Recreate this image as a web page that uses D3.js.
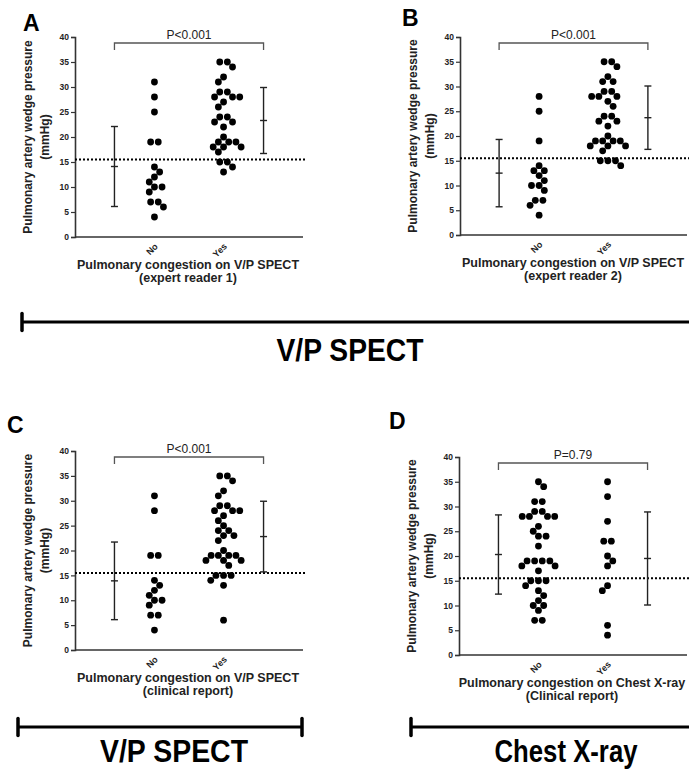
<!DOCTYPE html>
<html>
<head>
<meta charset="utf-8">
<script src="https://cdn.jsdelivr.net/npm/d3@7"></script>
<style>
  html, body { margin: 0; padding: 0; background: #fff; }
  svg { display: block; font-family: "Liberation Sans", Arial, sans-serif; }
</style>
</head>
<body>
<svg id="chart" width="689" height="769"></svg>
<script>
// ---------------- DATA ----------------
const categories = ["No", "Yes"];
const yTicks = [0, 5, 10, 15, 20, 25, 30, 35, 40];
const yDomain = [0, 40];
const threshold = 15.5;

const panelLetters = ["A", "B", "C", "D"];
const pValues = ["P<0.001", "P<0.001", "P<0.001", "P=0.79"];
const yTitle = ["Pulmonary artery wedge pressure", "(mmHg)"];
const xTitles = [
  "Pulmonary congestion on V/P SPECT",
  "Pulmonary congestion on V/P SPECT",
  "Pulmonary congestion on V/P SPECT",
  "Pulmonary congestion on Chest X-ray"
];
const xSubtitles = ["(expert reader 1)", "(expert reader 2)", "(clinical report)", "(Clinical report)"];

const aNo  = [31, 28, 25, 19, 19, 14, 13, 12, 11, 10, 10, 9, 7, 7, 6, 4];
const aYes = [35, 35, 34, 32, 31, 29, 29, 28, 28, 28, 27, 26, 24, 24, 23, 23, 22, 20, 19, 19, 19, 18, 18, 18, 17, 15, 15, 14, 13];
const bNo  = [28, 25, 19, 14, 13, 13, 12, 11, 10, 10, 9, 7, 7, 6, 4];
const bYes = [35, 35, 34, 32, 31, 31, 29, 29, 28, 28, 28, 27, 26, 24, 24, 23, 23, 22, 20, 19, 19, 19, 19, 18, 18, 18, 17, 15, 15, 15, 14];
const cNo  = [31, 28, 19, 19, 14, 13, 12, 11, 10, 10, 9, 7, 7, 4];
const cYes = [35, 35, 34, 32, 31, 29, 29, 28, 28, 28, 27, 26, 25, 24, 24, 23, 23, 22, 20, 19, 19, 19, 19, 18, 18, 18, 17, 15, 15, 15, 14, 13, 6];
const dNo  = [35, 34, 31, 31, 29, 29, 28, 28, 28, 28, 26, 25, 24, 24, 22, 19, 19, 19, 19, 18, 18, 17, 15, 15, 15, 14, 13, 12, 11, 10, 10, 9, 7, 7];
const dYes = [35, 32, 27, 23, 23, 20, 19, 18, 14, 13, 6, 4];

const meanNo  = [14.1, 12.5, 13.9, 20.3];
const sdNo    = [8.0, 6.8, 7.8, 8.0];
const meanYes = [23.3, 23.7, 22.8, 19.5];
const sdYes   = [6.6, 6.4, 7.1, 9.4];

const seriesNo  = [aNo, bNo, cNo, dNo];
const seriesYes = [aYes, bYes, cYes, dYes];

const groupLabels = ["V/P SPECT", "V/P SPECT", "Chest X-ray"];

// ---------------- LAYOUT ----------------
const panels = [
  { x0: 75,  x1: 303, yTop: 37,  yBot: 237, letter: [23, 31] },
  { x0: 460, x1: 687, yTop: 37,  yBot: 235, letter: [402, 26] },
  { x0: 75,  x1: 303, yTop: 451, yBot: 650, letter: [7, 433] },
  { x0: 459, x1: 687, yTop: 457, yBot: 655, letter: [389, 429] }
];
const R = 3.4;
const ERR_OFF = 40;

const svg = d3.select("#chart");

// beeswarm: equal values try a symmetric spread with a small shift; otherwise each dot
// is placed individually at the free position nearest the column centre.
function swarm(values, y) {
  const same = 7.6, minD = 7.2, maxShift = 4.5;
  const order = values.map((v, i) => i).sort((a, b) => values[b] - values[a]);
  const groups = d3.groups(order, i => values[i]);
  const placed = [];
  const off = new Array(values.length).fill(0);
  let flip = 1;
  function bestShift(base, py) {
    const intervals = [];
    base.forEach(b => {
      placed.forEach(p => {
        const dy = Math.abs(p.y - py);
        if (dy < minD) {
          const w = Math.sqrt(minD * minD - dy * dy);
          intervals.push([p.x - w - b, p.x + w - b]);
        }
      });
    });
    const cands = [0];
    intervals.forEach(([a, c]) => { cands.push(a, c); });
    const valid = cands.filter(s => intervals.every(([a, c]) => s <= a + 1e-6 || s >= c - 1e-6));
    valid.sort((a, b) => {
      const d = Math.abs(a) - Math.abs(b);
      if (Math.abs(d) > 1e-6) return d;
      return flip * (b - a);
    });
    return valid.length ? valid[0] : 0;
  }
  groups.forEach(([v, idx]) => {
    const py = y(v), n = idx.length;
    const base = idx.map((_, k) => (k - (n - 1) / 2) * same);
    const s = bestShift(base, py);
    if (n === 1 || Math.abs(s) <= maxShift) {
      if (Math.abs(s) > 1e-6) flip = -flip;
      base.forEach((b, k) => { off[idx[k]] = b + s; placed.push({ x: b + s, y: py }); });
    } else {
      idx.forEach(i => {
        const sx = bestShift([0], py);
        if (Math.abs(sx) > 1e-6) flip = -flip;
        off[i] = sx; placed.push({ x: sx, y: py });
      });
    }
  });
  return off;
}

panels.forEach((P, pi) => {
  const g = svg.append("g");
  const y = d3.scaleLinear().domain(yDomain).range([P.yBot, P.yTop]);
  const x = d3.scalePoint().domain(categories).range([P.x0, P.x1]).padding(1.15);

  // letter
  g.append("text").attr("x", P.letter[0]).attr("y", P.letter[1])
    .attr("font-size", 23).attr("font-weight", "bold").text(panelLetters[pi]);

  // y axis
  const yAxis = d3.axisLeft(y).tickValues(yTicks).tickSize(4).tickPadding(2);
  const ya = g.append("g").attr("transform", `translate(${P.x0},0)`).call(yAxis);
  ya.select(".domain").attr("stroke", "#333").attr("stroke-width", 1.6);
  ya.selectAll(".tick line").attr("stroke", "#333").attr("stroke-width", 1.2);
  ya.selectAll(".tick text").attr("font-size", 8.5).attr("font-weight", "bold")
    .attr("fill", "#222").attr("font-family", "Liberation Sans, Arial, sans-serif");

  // x axis line
  g.append("line").attr("x1", P.x0).attr("x2", P.x1).attr("y1", P.yBot).attr("y2", P.yBot)
    .attr("stroke", "#333").attr("stroke-width", 1.6);

  // x tick labels
  categories.forEach(c => {
    g.append("text")
      .attr("transform", `translate(${x(c) + 4},${P.yBot + 10}) rotate(-45)`)
      .attr("text-anchor", "end").attr("font-size", 9).attr("font-weight", "bold")
      .attr("fill", "#222").text(c);
  });

  // y title
  const yc = (P.yTop + P.yBot) / 2;
  [[-47, yTitle[0]], [-30, yTitle[1]]].forEach(([dx, t]) => {
    g.append("text").attr("transform", `translate(${P.x0 + dx},${yc}) rotate(-90)`)
      .attr("text-anchor", "middle").attr("dy", "0.35em")
      .attr("font-size", 12).attr("font-weight", "bold").attr("fill", "#222").text(t);
  });

  // x titles
  const xc = P.x0 + 113;
  g.append("text").attr("x", xc).attr("y", P.yBot + 31.5).attr("text-anchor", "middle")
    .attr("font-size", 12.5).attr("font-weight", "bold").attr("fill", "#222").text(xTitles[pi]);
  g.append("text").attr("x", xc).attr("y", P.yBot + 45).attr("text-anchor", "middle")
    .attr("font-size", 12.5).attr("font-weight", "bold").attr("fill", "#222").text(xSubtitles[pi]);

  // threshold dotted line
  g.append("line").attr("x1", P.x0).attr("x2", P.x1 + 2)
    .attr("y1", y(threshold)).attr("y2", y(threshold))
    .attr("stroke", "#000").attr("stroke-width", 2).attr("stroke-dasharray", "2,2");

  // error bars
  const errs = [
    { cx: x("No") - ERR_OFF, m: meanNo[pi], s: sdNo[pi] },
    { cx: x("Yes") + ERR_OFF, m: meanYes[pi], s: sdYes[pi] }
  ];
  errs.forEach(e => {
    const eg = g.append("g").attr("stroke", "#222").attr("stroke-width", 1.4);
    eg.append("line").attr("x1", e.cx).attr("x2", e.cx).attr("y1", y(e.m + e.s)).attr("y2", y(e.m - e.s));
    [e.m + e.s, e.m, e.m - e.s].forEach(v => {
      eg.append("line").attr("x1", e.cx - 3.5).attr("x2", e.cx + 3.5).attr("y1", y(v)).attr("y2", y(v));
    });
  });

  // p-value bracket
  const by = P.yTop + 6;
  const bx1 = errs[0].cx, bx2 = errs[1].cx;
  g.append("path")
    .attr("d", `M${bx1},${by + 7}V${by}H${bx2}V${by + 7}`)
    .attr("fill", "none").attr("stroke", "#555").attr("stroke-width", 1.3);
  g.append("text").attr("x", (bx1 + bx2) / 2).attr("y", by - 4).attr("text-anchor", "middle")
    .attr("font-size", 12).attr("fill", "#222").text(pValues[pi]);

  // dots
  [["No", seriesNo[pi]], ["Yes", seriesYes[pi]]].forEach(([c, vals]) => {
    const off = swarm(vals, y);
    g.append("g").selectAll("circle").data(vals).join("circle")
      .attr("cx", (d, i) => x(c) + off[i]).attr("cy", d => y(d)).attr("r", R).attr("fill", "#000");
  });
});

// ---------------- group brackets ----------------
const brackets = [
  { x1: 22, x2: 689, y: 322, capL: true, capR: false, tx: 350, ty: 361, tl: 147 },
  { x1: 18, x2: 302, y: 727, capL: true, capR: true, tx: 174, ty: 762, tl: 148 },
  { x1: 411, x2: 689, y: 727, capL: true, capR: false, tx: 566, ty: 762, tl: 143 }
];
brackets.forEach((b, i) => {
  const g = svg.append("g");
  g.append("line").attr("x1", b.x1).attr("x2", b.x2).attr("y1", b.y).attr("y2", b.y)
    .attr("stroke", "#000").attr("stroke-width", 3);
  if (b.capL) g.append("line").attr("x1", b.x1).attr("x2", b.x1).attr("y1", b.y - 8.5).attr("y2", b.y + 8.5)
    .attr("stroke", "#000").attr("stroke-width", 3.5).attr("stroke-linecap", "round");
  if (b.capR) g.append("line").attr("x1", b.x2).attr("x2", b.x2).attr("y1", b.y - 8.5).attr("y2", b.y + 8.5)
    .attr("stroke", "#000").attr("stroke-width", 3.5).attr("stroke-linecap", "round");
  g.append("text").attr("x", b.tx).attr("y", b.ty).attr("text-anchor", "middle")
    .attr("font-family", "'Liberation Sans Narrow', 'Liberation Sans', Arial, sans-serif")
    .attr("font-size", 32).attr("font-weight", "bold")
    .attr("textLength", b.tl).attr("lengthAdjust", "spacingAndGlyphs")
    .text(groupLabels[i]);
});
</script>
</body>
</html>
